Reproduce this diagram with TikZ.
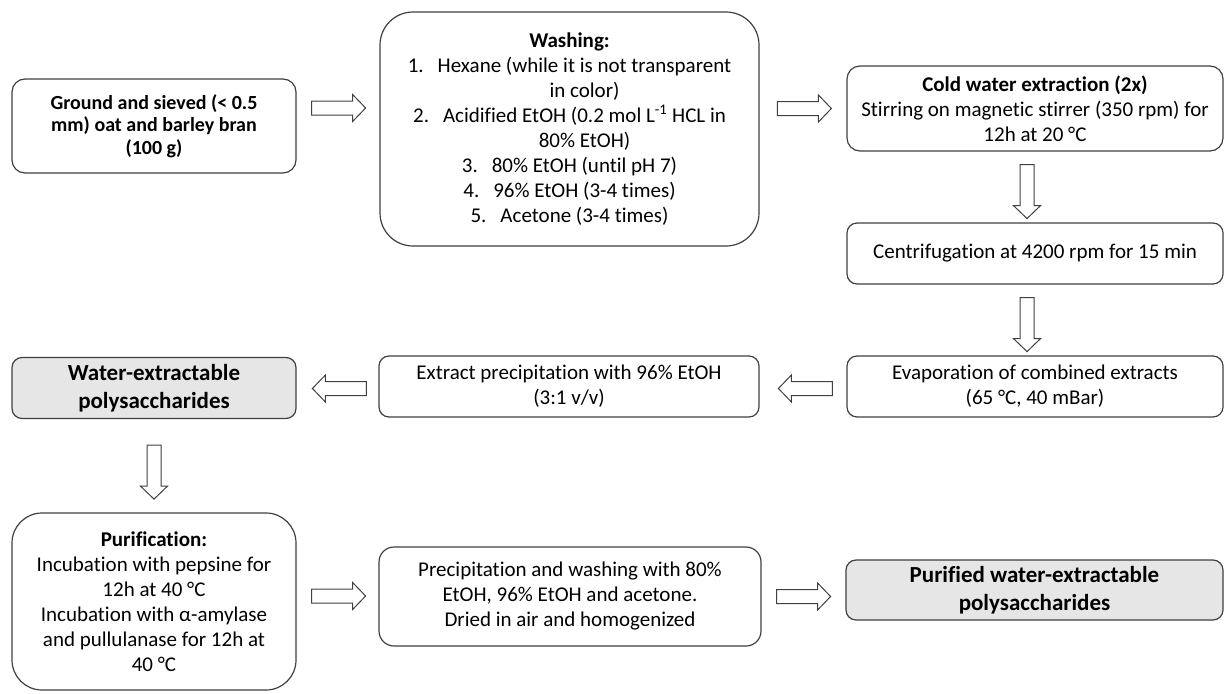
\documentclass[tikz,border=0pt]{standalone}
\usepackage{fontspec}
\setmainfont{Carlito}[Ligatures=NoCommon]
\usetikzlibrary{calc}
\definecolor{lc}{HTML}{404040}
\definecolor{gfill}{HTML}{E6E6E6}
\begin{document}
\begin{tikzpicture}[x=1pt,y=-1pt,
  box/.style={draw=lc, line width=1.2pt, fill=white, inner sep=0pt, align=center,
    font=\fontsize{21pt}{25pt}\selectfont},
  bbox/.style={box, font=\fontsize{20pt}{22.5pt}\selectfont\bfseries},
  gbox/.style={box, fill=gfill, font=\fontsize{23pt}{28.5pt}\selectfont\bfseries},
  barrow/.pic={\draw[draw=lc, line width=1pt, fill=white]
     (0,-7) -- (41,-7) -- (41,-13.5) -- (54,0) -- (41,13.5) -- (41,7) -- (0,7) -- cycle;}
]
\useasboundingbox (0,0) rectangle (1225,693);

\node[bbox, rounded corners=13pt, minimum width=284pt, minimum height=94pt] (ground) at (154,126)
  {Ground and sieved (< 0.5\\mm) oat and barley bran\\(100 g)};

\node[box, rounded corners=33pt, minimum width=379pt, minimum height=234pt] (washing) at (569.5,129)
  {\textbf{Washing:}\\
   1.\hspace{14pt}Hexane (while it is not transparent\\
   \hspace*{30pt}in color)\\
   2.\hspace{14pt}Acidified EtOH (0.2 mol L\textsuperscript{-1} HCL in\\
   \hspace*{30pt}80\% EtOH)\\
   3.\hspace{14pt}80\% EtOH (until pH 7)\\
   4.\hspace{14pt}96\% EtOH (3-4 times)\\
   5.\hspace{14pt}Acetone (3-4 times)};

\node[box, rounded corners=13pt, minimum width=376pt, minimum height=85pt] (cold) at (1035,108.5)
  {\textbf{Cold water extraction (2x)}\\Stirring on magnetic stirrer (350 rpm) for\\12h at 20 °C};

\node[box, rounded corners=10pt, minimum width=376pt, minimum height=61pt] (centrif) at (1035,253.5)
  {Centrifugation at 4200 rpm for 15 min};

\node[box, rounded corners=10pt, minimum width=376pt, minimum height=61pt] (evap) at (1035,386.5)
  {Evaporation of combined extracts\\(65 °C, 40 mBar)};

\node[box, rounded corners=10pt, minimum width=380pt, minimum height=61pt] (extract) at (569,386.5)
  {Extract precipitation with 96\% EtOH\\(3:1 v/v)};

\node[gbox, rounded corners=10pt, minimum width=284pt, minimum height=61pt] (water) at (154,388)
  {Water-extractable\\polysaccharides};

\node[box, rounded corners=30pt, minimum width=284pt, minimum height=177pt] (purif) at (154,601.5)
  {\textbf{Purification:}\\Incubation with pepsine for\\12h at 40 °C\\Incubation with α-amylase\\and pullulanase for 12h at\\40 °C};

\node[box, rounded corners=15pt, minimum width=382pt, minimum height=99pt] (precip) at (570,596.5)
  {Precipitation and washing with 80\%\\EtOH, 96\% EtOH and acetone.\\Dried in air and homogenized};

\node[gbox, rounded corners=10pt, minimum width=377pt, minimum height=60pt] (purified) at (1034.5,590)
  {Purified water-extractable\\polysaccharides};

\coordinate (a1) at ($(ground.east)+(15,-18)$);
\coordinate (a2) at ($(cold.west)+(-69,0)$);
\coordinate (a3) at ($(cold.south)+(-8,13)$);
\coordinate (a4) at ($(centrif.south)+(-8,13)$);
\coordinate (a5) at ($(evap.west)+(-14,2)$);
\coordinate (a6) at ($(extract.west)+(-12,2)$);
\coordinate (a7) at ($(water.south)+(0,26)$);
\coordinate (a8) at ($(purif.east)+(15,-5.5)$);
\coordinate (a9) at ($(precip.east)+(15,0)$);

\pic at (a1) {barrow};
\pic at (a2) {barrow};
\pic[rotate=-90] at (a3) {barrow};
\pic[rotate=-90] at (a4) {barrow};
\pic[rotate=180] at (a5) {barrow};
\pic[rotate=180] at (a6) {barrow};
\pic[rotate=-90] at (a7) {barrow};
\pic at (a8) {barrow};
\pic at (a9) {barrow};
\end{tikzpicture}
\end{document}
